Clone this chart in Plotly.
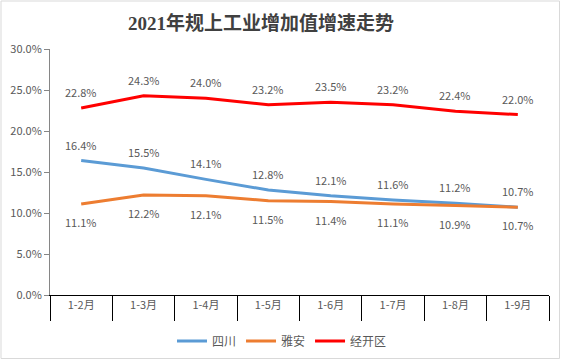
import plotly.graph_objects as go

categories = ["1-2月", "1-3月", "1-4月", "1-5月", "1-6月", "1-7月", "1-8月", "1-9月"]
sichuan = [16.4, 15.5, 14.1, 12.8, 12.1, 11.6, 11.2, 10.7]
yaan = [11.1, 12.2, 12.1, 11.5, 11.4, 11.1, 10.9, 10.7]
jingkai = [22.8, 24.3, 24.0, 23.2, 23.5, 23.2, 22.4, 22.0]
y_ticks = [0, 5, 10, 15, 20, 25, 30]

font_family = "Microsoft YaHei, Noto Sans CJK SC, sans-serif"
label_color = "#595959"

fig = go.Figure()
series = [("四川", sichuan, "#5B9BD5", 16), ("雅安", yaan, "#ED7D31", -18), ("经开区", jingkai, "#FF0000", 16)]
annotations = []
for name, vals, color, shift in series:
    fig.add_trace(go.Scatter(x=categories, y=vals, name=name, mode="lines",
                             line=dict(color=color, width=3), hoverinfo="skip"))
    for c, v in zip(categories, vals):
        annotations.append(dict(x=c, y=v, xref="x", yref="y", text=f"{v:.1f}%", showarrow=False,
                                yshift=shift, font=dict(size=11, color=label_color)))

L, R, T, B = 50, 12, 49, 65
W, H = 561, 360
pw, ph = W - L - R, H - T - B

fig.update_layout(
    width=W, height=H,
    margin=dict(l=L, r=R, t=T, b=B, autoexpand=False),
    paper_bgcolor="white", plot_bgcolor="white",
    font=dict(family=font_family, size=11, color=label_color),
    title=dict(text="<b>2021年规上工业增加值增速走势</b>", x=261 / W, xanchor="center",
               xref="container", y=1 - 23 / H, yanchor="middle",
               font=dict(family="Liberation Serif, Noto Sans CJK SC, serif", size=19, color="#404040")),
    showlegend=True,
    legend=dict(orientation="h", x=(282 - L) / pw, xanchor="center", y=-(341 - 295) / ph, yanchor="middle",
                font=dict(size=12, color=label_color), itemwidth=30, tracegroupgap=0),
    annotations=annotations,
    xaxis=dict(type="category", showgrid=False, showline=True, linecolor="#000000", linewidth=1,
               ticks="outside", tickson="boundaries", ticklen=25, tickcolor="#000000",
               tickfont=dict(size=11, color=label_color), range=[-0.5, 7.5], automargin=False),
    yaxis=dict(range=[0, 30], tickvals=y_ticks, ticktext=[f"{v:.1f}%" for v in y_ticks],
               showgrid=False, showline=True, linecolor="#868686", linewidth=1,
               ticks="outside", ticklen=5, tickcolor="#868686", zeroline=False,
               tickfont=dict(size=11, color=label_color), automargin=False),
    shapes=[dict(type="rect", xref="paper", yref="paper",
                 x0=(-L + 1) / pw, x1=(pw + R - 1.5) / pw,
                 y0=(-B + 1.5) / ph, y1=(ph + T - 1) / ph,
                 line=dict(color="#D9D9D9", width=1), fillcolor="rgba(0,0,0,0)")],
)

fig.write_html("out.html", config={"displayModeBar": False},
               post_script="document.body.style.margin='0';")
